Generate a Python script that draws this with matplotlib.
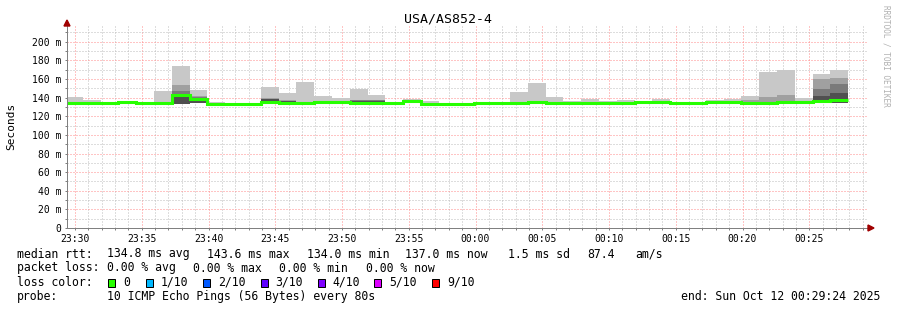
import numpy as np
import matplotlib
matplotlib.use('Agg')
import matplotlib.pyplot as plt
from matplotlib.patches import Rectangle, Polygon

W, H = 897, 310
MONO = 'DejaVu Sans Mono'

# time axis: seconds relative to 23:30:00
t_start, t_end = -36, 3564          # 23:29:24 .. 00:29:24
first_step_end = 35                 # 23:30:35
step_s = 80
time_labels = ['23:30', '23:35', '23:40', '23:45', '23:50', '23:55',
               '00:00', '00:05', '00:10', '00:15', '00:20', '00:25']

# per-step values (ms), 44 steps of 80 s
median = [134.3, 134.0, 134.0, 134.8, 133.9, 134.3, 143.3, 138.4, 133.6, 133.5,
          133.5, 135.2, 134.0, 134.0, 135.2, 135.0, 134.1, 134.5, 133.7, 136.0,
          133.3, 133.3, 133.3, 133.8, 134.1, 134.0, 135.2, 134.0, 134.0, 134.0,
          134.0, 134.0, 134.8, 134.8, 133.9, 133.9, 134.8, 135.5, 134.3, 134.1,
          135.2, 135.2, 136.0, 137.3]
smoke_min = [133.0, 133.0, 133.0, 133.2, 133.0, 133.0, 133.5, 133.8, 132.8, 132.8,
             132.8, 133.0, 133.0, 133.0, 133.0, 133.0, 133.0, 133.0, 132.8, 134.0,
             132.6, 132.6, 132.6, 132.8, 133.0, 133.0, 133.0, 133.0, 133.0, 133.0,
             133.0, 133.0, 133.5, 133.5, 133.0, 133.0, 133.5, 134.0, 133.0, 133.0,
             133.5, 133.5, 134.0, 134.5]
smoke_max = [140.9, 137.0, 135.5, 135.5, 135.0, 147.3, 173.5, 148.4, 135.1, 134.5,
             134.5, 151.6, 145.2, 156.6, 142.0, 140.0, 149.5, 143.0, 135.0, 138.7,
             136.6, 134.5, 134.5, 135.5, 135.5, 146.2, 155.9, 140.9, 136.6, 138.7,
             136.6, 137.0, 136.0, 139.0, 135.5, 134.5, 137.6, 138.4, 141.9, 167.0,
             169.9, 139.8, 165.6, 169.9]
band2_top = [133.0, 133.0, 133.0, 133.2, 133.0, 133.0, 153.8, 141.9, 132.8, 132.8,
             132.8, 140.0, 137.0, 133.0, 133.0, 133.0, 137.5, 137.5, 132.8, 134.0,
             132.6, 132.6, 132.6, 132.8, 133.0, 133.0, 133.0, 133.0, 133.0, 133.0,
             133.0, 133.0, 133.5, 133.5, 133.0, 133.0, 133.5, 134.0, 137.6, 141.0,
             142.3, 133.5, 160.0, 160.6]
band3_top = [133.0, 133.0, 133.0, 133.2, 133.0, 133.0, 146.6, 140.5, 132.8, 132.8,
             132.8, 139.0, 136.5, 133.0, 133.0, 133.0, 137.0, 137.0, 132.8, 134.0,
             132.6, 132.6, 132.6, 132.8, 133.0, 133.0, 133.0, 133.0, 133.0, 133.0,
             133.0, 133.0, 133.5, 133.5, 133.0, 133.0, 133.5, 134.0, 133.0, 133.0,
             133.5, 133.5, 149.1, 154.2]
band4_top = [133.0, 133.0, 133.0, 133.2, 133.0, 133.0, 143.0, 139.4, 132.8, 132.8,
             132.8, 138.0, 136.0, 133.0, 133.0, 133.0, 136.5, 136.5, 132.8, 134.0,
             132.6, 132.6, 132.6, 132.8, 133.0, 133.0, 133.0, 133.0, 133.0, 133.0,
             133.0, 133.0, 133.5, 133.5, 133.0, 133.0, 133.5, 134.0, 133.0, 133.0,
             133.5, 133.5, 141.9, 144.9]

loss_labels = ['0', '1/10', '2/10', '3/10', '4/10', '5/10', '9/10']
loss_colors = ['#26ff00', '#00b8ff', '#0059ff', '#5e00ff', '#7e00ff', '#dd00ff', '#ff0000']


def fx(x):
    return x / W


def fy(y):
    return 1 - y / H


fig = plt.figure(figsize=(W / 100, H / 100), dpi=100)
ax = fig.add_axes([fx(67), fy(228), (868 - 67) / W, (228 - 25) / H])

edges = first_step_end + step_s * (np.arange(len(median) + 1) - 1)

# smoke layers
ax.stairs(smoke_max, edges, baseline=smoke_min, fill=True, color='#c8c8c8', lw=0, zorder=2)
ax.stairs(band2_top, edges, baseline=smoke_min, fill=True, color='#a0a0a0', lw=0, zorder=2)
ax.stairs(band3_top, edges, baseline=smoke_min, fill=True, color='#7a7a7a', lw=0, zorder=2)
ax.stairs(band4_top, edges, baseline=smoke_min, fill=True, color='#505050', lw=0, zorder=2)

# median line
ax.stairs(median, edges, baseline=None, color=loss_colors[0], lw=2.2, zorder=3)

ax.set_xlim(t_start, t_end)
ax.set_ylim(0, 218)

major_x = np.arange(len(time_labels)) * 300
ax.set_xticks(major_x)
ax.set_xticklabels(time_labels, family=MONO, fontsize=7)
ax.set_xticks(np.arange(0, t_end, 60), minor=True)
ax.set_yticks(np.arange(0, 201, 20))
ax.set_yticklabels(['0'] + [f'{v} m' for v in range(20, 201, 20)], family=MONO, fontsize=7)
ax.set_yticks(np.arange(10, 218, 20), minor=True)

ax.grid(which='minor', color='#bdbdbd', ls=(0, (1, 2)), lw=0.72, zorder=1)
ax.grid(which='major', color='#ff8a8a', ls=(0, (1, 2)), lw=0.72, zorder=1)
ax.set_axisbelow(True)
ax.tick_params(which='both', length=1.5, width=0.72, color='#808080', pad=2.5)

for s in ['top', 'right']:
    ax.spines[s].set_visible(False)
for s in ['left', 'bottom']:
    ax.spines[s].set_color('#808080')
    ax.spines[s].set_linewidth(0.72)
    ax.spines[s].set_zorder(4)

# axis arrows
fig.add_artist(Polygon([(fx(64), fy(26)), (fx(70), fy(26)), (fx(67), fy(20))],
                       closed=True, color='#a00000', transform=fig.transFigure))
fig.add_artist(Polygon([(fx(868), fy(225)), (fx(868), fy(231)), (fx(874), fy(228))],
                       closed=True, color='#a00000', transform=fig.transFigure))

fig.text(fx(448), fy(19), 'USA/AS852-4', family=MONO, fontsize=9.5, ha='center', va='center')
fig.text(fx(11), fy(126), 'Seconds', family=MONO, fontsize=8, rotation=90, ha='center', va='center')
fig.text(fx(886), fy(5), 'RRDTOOL / TOBI OETIKER', family=MONO, fontsize=5.6, color='#b0b0b0',
         rotation=-90, ha='center', va='top')

lg = dict(family=MONO, fontsize=8.3, va='center', ha='left')
fig.text(fx(16.7), fy(254), 'median rtt:', **lg)
for x, s in [(107.3, '134.8 ms avg'), (207, '143.6 ms max'), (307, '134.0 ms min'),
             (405, '137.0 ms now'), (508, '1.5 ms sd'), (587, '87.4'), (635, 'am/s')]:
    fig.text(fx(x), fy(254), s, **lg)

fig.text(fx(16.7), fy(268), 'packet loss:', **lg)
for x, s in [(107.3, '0.00 % avg'), (193.3, '0.00 % max'), (279.3, '0.00 % min'), (365.7, '0.00 % now')]:
    fig.text(fx(x), fy(268), s, **lg)

fig.text(fx(16.7), fy(282), 'loss color:', **lg)
box_x = [108.3, 145.7, 203, 260.7, 317.7, 374, 432]
for bx, lab, c in zip(box_x, loss_labels, loss_colors):
    fig.add_artist(Rectangle((fx(bx), fy(286.5)), 7 / W, 7.5 / H, facecolor=c,
                             edgecolor='black', lw=0.72, transform=fig.transFigure))
    fig.text(fx(bx + 15), fy(282), lab, **lg)

fig.text(fx(16.7), fy(296.5), 'probe:', **lg)
fig.text(fx(107.3), fy(296.5), '10 ICMP Echo Pings (56 Bytes) every 80s', **lg)
fig.text(fx(880), fy(296.5), 'end: Sun Oct 12 00:29:24 2025', family=MONO, fontsize=8.3,
         va='center', ha='right')

fig.savefig('out.png', dpi=100)
